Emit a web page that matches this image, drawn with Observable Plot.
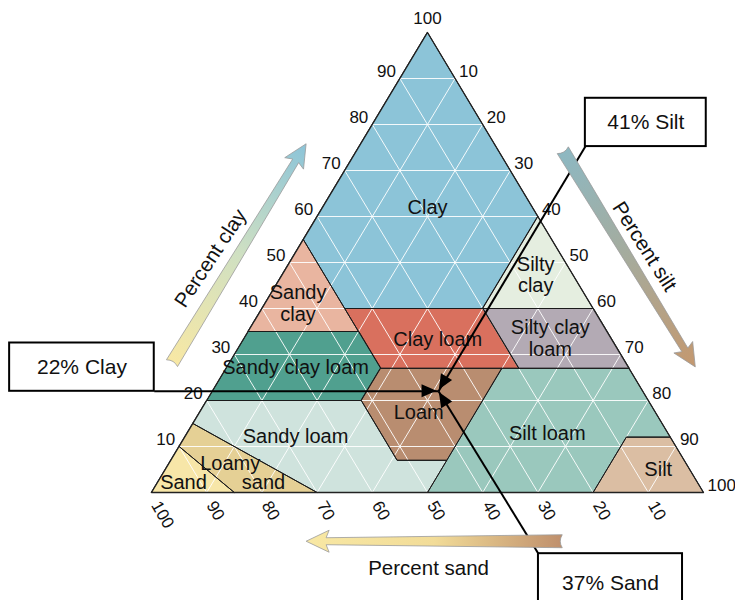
<!DOCTYPE html>
<html><head><meta charset="utf-8">
<script src="https://cdn.jsdelivr.net/npm/d3@7"></script>
<script src="https://cdn.jsdelivr.net/npm/@observablehq/plot@0.6"></script>
<style>body{margin:0;background:#fff}</style>
</head><body><div id="chart"></div>
<script>
// Texture class polygons, vertices as [sand, silt, clay] percentages
const classNames = ["Clay","Silty clay","Sandy clay","Clay loam","Silty clay loam","Sandy clay loam","Loam","Silt loam","Silt","Sandy loam","Loamy sand","Sand"];
const classVertices = [
  [[0,0,100],[0,40,60],[20,40,40],[45,15,40],[45,0,55]],
  [[0,40,60],[0,60,40],[20,40,40]],
  [[45,0,55],[45,15,40],[45,20,35],[65,0,35]],
  [[20,40,40],[45,15,40],[45,28,27],[20,53,27]],
  [[0,60,40],[20,40,40],[20,53,27],[0,73,27]],
  [[45,20,35],[65,0,35],[80,0,20],[52,28,20],[45,28,27]],
  [[45,28,27],[23,50,27],[43,50,7],[52,41,7],[52,28,20]],
  [[23,50,27],[0,73,27],[0,88,12],[8,80,12],[20,80,0],[50,50,0],[43,50,7]],
  [[0,88,12],[0,100,0],[20,80,0],[8,80,12]],
  [[80,0,20],[52,28,20],[52,41,7],[43,50,7],[50,50,0],[70,30,0],[85,0,15]],
  [[85,0,15],[70,30,0],[85,15,0],[90,0,10]],
  [[90,0,10],[85,15,0],[100,0,0]]
];
const classColors = ["#8cc4d8","#e5eee0","#e9b5a0","#d9705e","#b3aab4","#50a08f","#b98d70","#9ac8bd","#dbbea3","#cfe3dd","#e5d095","#f7e6a8"];
// class label positions [text, silt, clay]
const classLabels = [
  ["Clay",19,62],["Silty\nclay",45.9,47.4],["Sandy\nclay",6,41.1],["Clay loam",35.2,33.3],
  ["Silty clay\nloam",55.5,33.5],["Sandy clay loam",12.5,27.2],["Loam",39.6,17.6],
  ["Sandy loam",19.9,12.4],["Silt loam",65.2,13],["Silt",89.2,5.2],
  ["Loamy",11,6.5],["sand",19.1,2.4],["Sand",4.7,2.2]
];
const ticks = [10,20,30,40,50,60,70,80,90,100];
const gridLevels = [10,20,30,40,50,60,70,80,90];
// sample soil
const sample = {sand:37, silt:41, clay:22};

const tx = (silt, clay) => silt + clay/2;

const polyRows = classNames.map((n,i) => classVertices[i].map(([s,si,c]) => ({name:n, X:tx(si,c), Y:c})));

const grid = [];
for (const v of gridLevels) {
  grid.push({x1:tx(0,v), y1:v, x2:tx(100-v,v), y2:v});            // constant clay
  grid.push({x1:tx(v,0), y1:0, x2:tx(v,100-v), y2:100-v});        // constant silt
  grid.push({x1:tx(100-v,0), y1:0, x2:tx(0,100-v), y2:100-v});    // constant sand
}
const outline = [{X:0,Y:0},{X:100,Y:0},{X:50,Y:100}];

const sx = tx(sample.silt, sample.clay), sy = sample.clay;

// big gradient arrows: tail/head in plot data coords
const axisArrows = [
  {tail:[3.8,28.0], head:[28.1,75.7], colors:["#f8e8a4","#cfe0c2","#8cc4d8"]},
  {tail:[74.6,74.3], head:[98.6,27.2], colors:["#8db8c2","#a6ab9c","#c4986f"]},
  {tail:[74.5,-10.7], head:[28.1,-10.7], colors:["#bf8f6c","#f2dc98","#f8e8a4"]}
];
const axisTitles = [
  {text:"Percent clay", X:10.7, Y:50.9, r:-56.5},
  {text:"Percent silt", X:89.3, Y:53.5, r:57.5},
  {text:"Percent sand", X:50.2, Y:-16.6, r:0}
];
const boxes = [
  {text:"41% Silt", x1:78.6, x2:100.5, y1:85.7, y2:75.2, lx:78.6, ly:75.2},
  {text:"22% Clay", x1:-25.7, x2:0.5, y1:32.5, y2:22, lx:0.5, ly:22},
  {text:"37% Sand", x1:70.1, x2:96.2, y1:-13.3, y2:-26, lx:70.1, ly:-13.3}
];

function arrowPath(T, H) {
  const dx = H[0]-T[0], dy = H[1]-T[1], L = Math.hypot(dx,dy);
  const u = [dx/L, dy/L], n = [-u[1], u[0]];
  const tw = 6.5, nw = 3.5, hw = 11, hl = 20, notch = 4;
  const B = [H[0]-u[0]*hl, H[1]-u[1]*hl];
  const p = (P, a, b) => [P[0]+n[0]*a+u[0]*b, P[1]+n[1]*a+u[1]*b];
  const pts = [p(T,tw,0), p(B,nw,0), p(B,hw,-3), H, p(B,-hw,-3), p(B,-nw,0), p(T,-tw,0)];
  const c = p(T,0,notch);
  return "M" + pts.map(q=>q.join(",")).join("L") + `Q${c[0]},${c[1]} ${pts[0][0]},${pts[0][1]}Z`;
}

function decorations(index, scales) {
  const {x, y} = scales;
  const g = d3.create("svg:g");
  const defs = g.append("defs");
  axisArrows.forEach((a, i) => {
    const T = [x(a.tail[0]), y(a.tail[1])], H = [x(a.head[0]), y(a.head[1])];
    const gr = defs.append("linearGradient").attr("id","agrad"+i).attr("gradientUnits","userSpaceOnUse")
      .attr("x1",T[0]).attr("y1",T[1]).attr("x2",H[0]).attr("y2",H[1]);
    a.colors.forEach((c,j)=>gr.append("stop").attr("offset", j/(a.colors.length-1)).attr("stop-color", c));
    g.append("path").attr("d", arrowPath(T,H)).attr("fill",`url(#agrad${i})`).attr("stroke","#9a9a9a").attr("stroke-width",0.8);
  });
  // leader arrowheads
  const P = [x(sx), y(sy)];
  boxes.forEach(b => {
    const S = [x(b.lx), y(b.ly)];
    const dx = P[0]-S[0], dy = P[1]-S[1], L = Math.hypot(dx,dy);
    const u=[dx/L,dy/L], n=[-u[1],u[0]];
    const tip = [P[0]-u[0]*1.5, P[1]-u[1]*1.5];
    const bl = 15, bw = 6.5;
    const a = [tip[0]-u[0]*bl+n[0]*bw, tip[1]-u[1]*bl+n[1]*bw];
    const c = [tip[0]-u[0]*bl-n[0]*bw, tip[1]-u[1]*bl-n[1]*bw];
    g.append("path").attr("d",`M${tip}L${a}L${c}Z`).attr("fill","#000");
  });
  return g.node();
}

const marks = [];
classNames.forEach((n,i) => {
  marks.push(Plot.line(polyRows[i], {x:"X", y:"Y", curve:"linear-closed", fill:classColors[i], stroke:"none"}));
});
marks.push(Plot.link(grid, {x1:"x1", y1:"y1", x2:"x2", y2:"y2", stroke:"white", strokeWidth:1, strokeOpacity:0.9}));
classNames.forEach((n,i) => {
  marks.push(Plot.line(polyRows[i], {x:"X", y:"Y", curve:"linear-closed", fill:"none", stroke:"#1a1a1a", strokeWidth:1}));
});
marks.push(Plot.line(outline, {x:"X", y:"Y", curve:"linear-closed", fill:"none", stroke:"#222", strokeWidth:1.3}));
// class labels
marks.push(Plot.text(classLabels, {x:d=>tx(d[1],d[2]), y:d=>d[2], text:d=>d[0], fontSize:20, fill:"#111", lineHeight:1.1}));
// tick labels
marks.push(Plot.text(ticks.filter(t=>t<100), {x:t=>tx(0,t), y:t=>t, text:t=>String(t), textAnchor:"end", dx:-4, dy:-7, fontSize:17, fill:"#111"}));
marks.push(Plot.text([100], {x:50, y:100, text:t=>String(t), dy:-14, fontSize:17, fill:"#111"}));
marks.push(Plot.text(ticks, {x:t=>tx(t,100-t), y:t=>100-t, text:t=>String(t), textAnchor:"start", dx:4, dy:-7, fontSize:17, fill:"#111"}));
marks.push(Plot.text(ticks, {x:t=>tx(100-t,0), y:0, text:t=>String(t), textAnchor:"start", rotate:60, dx:4, dy:10, fontSize:17, fill:"#111"}));
// annotation leaders
marks.push(Plot.link(boxes, {x1:"lx", y1:"ly", x2:()=>sx, y2:()=>sy, stroke:"#000", strokeWidth:2}));
marks.push(decorations);
marks.push(Plot.text(axisTitles, {x:"X", y:"Y", text:"text", rotate:"r", fontSize:20.5, fill:"#111"}));
marks.push(Plot.rect(boxes, {x1:"x1", x2:"x2", y1:"y1", y2:"y2", fill:"white", stroke:"#000", strokeWidth:2}));
marks.push(Plot.text(boxes, {x:d=>(d.x1+d.x2)/2, y:d=>(d.y1+d.y2)/2, text:"text", fontSize:21, fill:"#111"}));

const chart = Plot.plot({
  width:735, height:600,
  marginLeft:151, marginRight:32, marginTop:32, marginBottom:108,
  x:{domain:[0,100], axis:null}, y:{domain:[0,100], axis:null},
  style:{fontFamily:"'Liberation Sans', Arial, Helvetica, sans-serif", background:"white", overflow:"visible"},
  marks
});
document.getElementById("chart").append(chart);
</script>
</body></html>
